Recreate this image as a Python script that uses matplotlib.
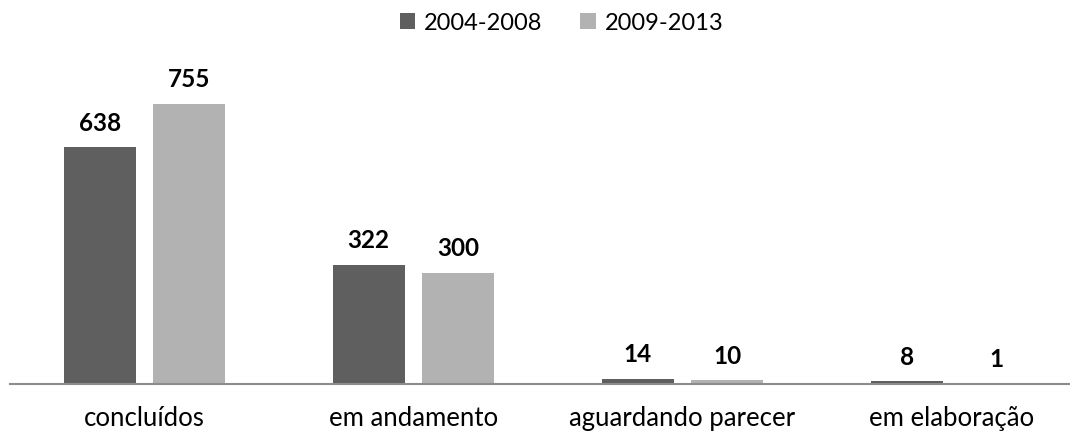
import matplotlib.pyplot as plt
import numpy as np

categorias = ["concluídos", "em andamento", "aguardando parecer", "em elaboração"]
serie_2004_2008 = [638, 322, 14, 8]
serie_2009_2013 = [755, 300, 10, 1]
rotulos = ["2004-2008", "2009-2013"]

plt.rcParams['font.family'] = ['Lato', 'DejaVu Sans']

fig = plt.figure(figsize=(10.7, 4.34), dpi=100)
# axes from x=10px, width 1076px (runs past the right edge), y from 384 to 40
ax = fig.add_axes([10 / 1070, (434 - 384) / 434, 1076 / 1070, 344 / 434])

x = np.arange(len(categorias))
w = 0.268
off = 0.167
b1 = ax.bar(x - off, serie_2004_2008, w, color='#5f5f5f', label=rotulos[0])
b2 = ax.bar(x + off, serie_2009_2013, w, color='#b2b2b2', label=rotulos[1])

for bars in (b1, b2):
    for r in bars:
        ax.annotate(str(int(r.get_height())), (r.get_x() + r.get_width() / 2, r.get_height()),
                    xytext=(0, 9), textcoords='offset points', ha='center', va='bottom',
                    fontsize=17.5, fontweight='bold', color='black')

ax.set_xlim(-0.5, len(categorias) - 0.5)
ax.set_ylim(0, 927)
ax.set_xticks(x)
ax.set_xticklabels(categorias, fontsize=18.5)
ax.tick_params(axis='x', length=0, pad=16)
ax.set_yticks([])
for s in ['top', 'right', 'left']:
    ax.spines[s].set_visible(False)
ax.spines['bottom'].set_color('#8c8c8c')
ax.spines['bottom'].set_linewidth(1.5)

fig.legend(loc='upper center', bbox_to_anchor=(0.525, 1.02), ncol=2, frameon=False,
           fontsize=17, handlelength=0.65, handleheight=0.65, handletextpad=0.4,
           columnspacing=1.6)

fig.savefig('out.png', dpi=100)
